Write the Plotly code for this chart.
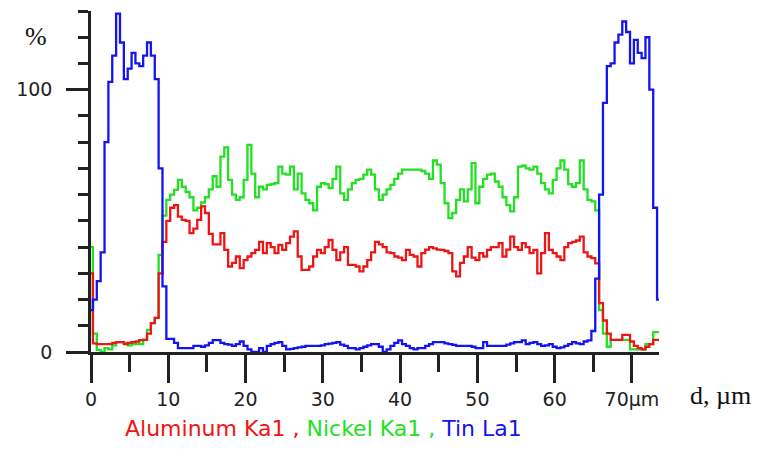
import plotly.graph_objects as go

# distance along the line scan, µm (0.5 µm steps)
d_um = [i * 0.5 for i in range(148)]

aluminum_ka1 = [
    30, 3.3, 3, 3, 3, 3, 3.5, 3.8, 3.8, 3,
    3.5, 3.8, 4, 4.5, 4.6, 7, 11, 13, 30, 42,
    50, 55, 56, 51.6, 50.4, 50, 45.3, 47, 50.4, 55.5,
    53, 45, 41, 41, 45.3, 38.9, 32.6, 34, 36.4, 32,
    35, 36.4, 37.7, 38.9, 42, 37.7, 41.5, 40, 37.7, 40.8,
    38.9, 41.5, 44, 46, 36.4, 31.3, 31.3, 32.6, 36.4, 38.9,
    37.7, 40, 42.7, 38.9, 35, 38, 40, 33.2, 33.2, 32.6,
    30.7, 32.6, 35, 38, 42, 41, 40, 38, 37.7, 36.4,
    36, 35, 38.9, 37, 36.4, 32.6, 37.7, 39, 40, 39.5,
    39, 38.9, 38.5, 37.7, 30.7, 28.8, 34, 36.4, 40, 36,
    35, 37.7, 36.4, 38.9, 40, 40, 41.5, 36.4, 39, 44,
    40, 38.9, 41.5, 40, 37.7, 38.9, 30, 37.7, 45.3, 38.9,
    37.7, 36.4, 35, 40, 41.5, 42, 42.5, 44, 38, 36.4,
    35.8, 33.8, 18.6, 12, 7, 4.6, 4.6, 4.6, 6.5, 6.5,
    4, 2.3, 1.5, 1, 2, 3, 4.6, 4.6,
]

nickel_ka1 = [
    40, 7, 0.8, 0, 1.5, 1, 2.5, 3.8, 3.8, 3.5,
    2.5, 3, 3, 3, 4.6, 8.4, 11, 13, 37, 52,
    58, 60, 61.8, 65.6, 63, 61, 59, 54, 55, 57,
    59, 62, 67, 63, 74.5, 78, 65.6, 60, 58, 59,
    65.6, 79, 68, 59, 63, 62, 63.7, 64, 64.4, 70.7,
    68, 67.6, 70.7, 62, 68, 60.5, 58, 56.7, 54, 63,
    64.4, 64, 62.5, 66, 70.7, 60.5, 58, 62, 64.4, 65.6,
    66, 67.6, 69.5, 67.6, 62, 58, 60, 62, 63.7, 66,
    68, 69.5, 69.5, 69.5, 69.5, 69.5, 69, 68, 66, 73,
    71.4, 64.4, 56.7, 51, 53, 58, 62, 57.4, 62, 72,
    56.7, 63, 66, 67.6, 68, 65, 63, 59, 56, 53.6,
    59, 70.7, 71, 70, 69.5, 70.7, 68, 64.4, 62, 60.5,
    65.6, 70, 73, 69.5, 64, 63, 64.4, 73, 62, 58,
    57.4, 54, 16, 7, 2, 4.6, 4.6, 4.6, 4.6, 4.6,
    1, 1, 1, 1, 3, 3, 7.6, 7.6,
]

tin_la1 = [
    16, 20, 27, 38, 80, 103, 113, 129, 118, 104,
    108, 114, 110, 109, 113, 118, 113, 104, 70, 25,
    5, 5, 3.5, 1.5, 1.5, 1.5, 1.5, 2.3, 2.3, 2,
    2.5, 3.5, 4.5, 4.5, 3.5, 3, 2.8, 2.3, 3, 4,
    2.3, 1, 0, 0, 1.5, 0, 2.3, 3, 3.5, 3.8,
    2.3, 1, 1.2, 1.5, 1.8, 2, 2.3, 2.3, 2.3, 2.3,
    2.5, 3, 3.2, 3.5, 3.8, 2.8, 2.3, 1.5, 1.5, 1,
    1.5, 2, 2.5, 3, 3, 2, 0, 1, 2.3, 3.5,
    4.4, 3, 2.3, 1.5, 1, 1.5, 1.5, 2.3, 3, 3.8,
    3.8, 3.8, 3.3, 3, 2.7, 2.3, 2.3, 2.3, 2.3, 2,
    1.5, 1.5, 3.8, 2.3, 2.3, 2.3, 2.3, 2.3, 2.8, 3.3,
    3.8, 3.8, 4.4, 3, 3.5, 3.8, 3, 2.3, 2.5, 3,
    2, 1.5, 1.8, 2.3, 3, 3.8, 3.3, 3, 4, 4.4,
    8, 28, 60, 95, 109, 110, 118, 121, 126, 122,
    110, 119, 114, 112, 120, 100, 55, 20,
]

x_tick_vals = [0, 10, 20, 30, 40, 50, 60, 70]
x_tick_text = ["0", "10", "20", "30", "40", "50", "60", "70µm"]
x_minor_vals = [5, 15, 25, 35, 45, 55, 65]
y_tick_vals = [0, 100]
y_tick_text = ["0", "100"]
y_minor_vals = [10, 20, 30, 40, 50, 60, 70, 80, 90, 110, 120, 130]

series = [
    ("Nickel Ka1", nickel_ka1, "#22e022"),
    ("Aluminum Ka1", aluminum_ka1, "#f01414"),
    ("Tin La1", tin_la1, "#1414f0"),
]

fig = go.Figure()
for name, vals, col in series:
    fig.add_trace(go.Scatter(
        x=d_um, y=vals, name=name, mode="lines",
        line=dict(color=col, width=2.3, shape="hvh"),
        showlegend=False, hoverinfo="skip",
    ))

axis_col = "#222222"
tick_font = dict(family="DejaVu Sans", size=19, color="#222222")

# page body has an 8px margin: figure is 761x451, offset by 8px
fig.update_layout(
    width=761, height=451,
    margin=dict(l=83, r=110, t=3, b=107, autoexpand=False),
    paper_bgcolor="white", plot_bgcolor="white",
    xaxis=dict(
        range=[0, 73.5], showgrid=False, zeroline=False, automargin=False,
        showline=True, linecolor=axis_col, linewidth=2.5,
        tickmode="array", tickvals=x_tick_vals, ticktext=x_tick_text,
        ticks="outside", ticklen=28, tickwidth=2.5, tickcolor=axis_col,
        tickfont=tick_font, ticklabelstandoff=0,
        minor=dict(tickmode="array", tickvals=x_minor_vals, ticks="outside",
                   ticklen=17, tickwidth=2.5, tickcolor=axis_col),
    ),
    yaxis=dict(
        range=[0, 130], showgrid=False, zeroline=False, automargin=False,
        showline=True, linecolor=axis_col, linewidth=2.5,
        tickmode="array", tickvals=y_tick_vals, ticktext=y_tick_text,
        ticks="outside", ticklen=22, tickwidth=2.5, tickcolor=axis_col,
        tickfont=tick_font, ticklabelstandoff=10,
        minor=dict(tickmode="array", tickvals=y_minor_vals, ticks="outside",
                   ticklen=10, tickwidth=2.5, tickcolor=axis_col),
    ),
    annotations=[
        dict(text="%", xref="paper", yref="paper", x=(36 - 91) / 568, y=(352 - 36) / 341,
             showarrow=False, font=dict(family="Liberation Serif", size=26, color="#111111"),
             xanchor="center", yanchor="middle"),
        dict(text="d, µm", xref="paper", yref="paper", x=(720 - 91) / 568, y=(352 - 396) / 341,
             showarrow=False, font=dict(family="Liberation Serif", size=26, color="#111111"),
             xanchor="center", yanchor="middle"),
        dict(text=("<span style='color:#f01414'>Aluminum Ka1 , </span>"
                   "<span style='color:#22e022'>Nickel Ka1 , </span>"
                   "<span style='color:#1414f0'>Tin La1</span>"),
             xref="paper", yref="paper", x=(323 - 91) / 568, y=(352 - 428) / 341,
             showarrow=False, font=dict(family="DejaVu Sans", size=22),
             xanchor="center", yanchor="middle"),
    ],
)

fig.write_html("out.html")
